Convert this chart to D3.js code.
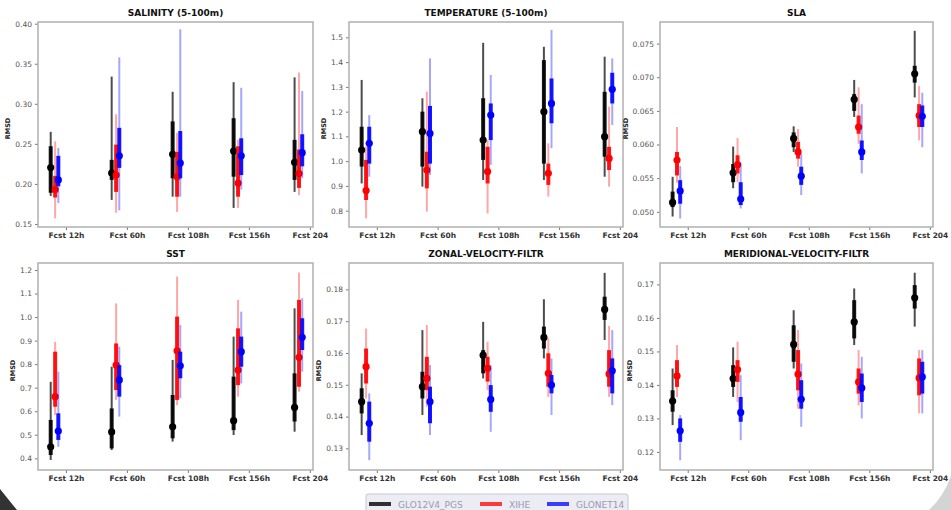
<!DOCTYPE html>
<html>
<head>
<meta charset="utf-8">
<script src="https://cdn.jsdelivr.net/npm/d3@7"></script>
<style>
  body { margin: 0; background: #fff; }
  svg { display: block; font-family: "DejaVu Sans", sans-serif; }
</style>
</head>
<body>
<div id="chart"></div>
<script>
'use strict';

// forecast lead times and labels
var hours = [12, 60, 108, 156, 204];
var xLabels = ['Fcst 12h', 'Fcst 60h', 'Fcst 108h', 'Fcst 156h', 'Fcst 204'];
var seriesNames = ['GLO12V4_PGS', 'XIHE', 'GLONET14'];

// each row: [low, q1, median, q3, high]
var salGlo = [[0.185, 0.189, 0.2205, 0.247, 0.265], [0.180, 0.205, 0.2135, 0.230, 0.334], [0.184, 0.207, 0.237, 0.278, 0.315], [0.170, 0.209, 0.241, 0.282, 0.327], [0.190, 0.205, 0.227, 0.255, 0.333]];
var salXihe = [[0.157, 0.183, 0.193, 0.210, 0.253], [0.164, 0.190, 0.211, 0.249, 0.287], [0.165, 0.184, 0.209, 0.240, 0.264], [0.170, 0.184, 0.201, 0.247, 0.255], [0.186, 0.195, 0.213, 0.243, 0.339]];
var salNet = [[0.176, 0.197, 0.205, 0.235, 0.245], [0.167, 0.220, 0.235, 0.270, 0.358], [0.184, 0.207, 0.226, 0.266, 0.393], [0.193, 0.211, 0.235, 0.257, 0.320], [0.207, 0.222, 0.239, 0.262, 0.316]];

var tempGlo = [[0.910, 0.978, 1.045, 1.139, 1.328], [0.897, 0.978, 1.119, 1.200, 1.254], [0.924, 1.005, 1.085, 1.254, 1.478], [0.924, 0.990, 1.200, 1.408, 1.462], [0.937, 1.018, 1.099, 1.280, 1.422]];
var tempXihe = [[0.769, 0.843, 0.881, 1.005, 1.060], [0.796, 0.890, 0.964, 1.038, 1.281], [0.789, 0.910, 0.958, 1.058, 1.085], [0.857, 0.904, 0.951, 0.990, 1.072], [0.897, 0.964, 1.011, 1.058, 1.220]];
var tempNet = [[0.937, 0.990, 1.072, 1.139, 1.186], [0.944, 0.990, 1.112, 1.223, 1.415], [0.985, 1.085, 1.186, 1.233, 1.348], [1.052, 1.153, 1.233, 1.334, 1.530], [1.146, 1.233, 1.290, 1.357, 1.415]];

var slaGlo = [[0.0493, 0.0507, 0.0514, 0.0530, 0.0552], [0.0535, 0.0544, 0.0558, 0.0571, 0.0597], [0.0589, 0.0596, 0.0609, 0.0618, 0.0627], [0.0641, 0.0650, 0.0667, 0.0675, 0.0696], [0.0670, 0.0692, 0.0705, 0.0717, 0.0769]];
var slaXihe = [[0.0543, 0.0554, 0.0577, 0.0589, 0.0626], [0.0544, 0.0557, 0.0570, 0.0584, 0.0610], [0.0567, 0.0579, 0.0589, 0.0604, 0.0623], [0.0601, 0.0616, 0.0626, 0.0643, 0.0685], [0.0606, 0.0626, 0.0643, 0.0660, 0.0687]];
var slaNet = [[0.0490, 0.0512, 0.0531, 0.0547, 0.0568], [0.0505, 0.0510, 0.0519, 0.0544, 0.0573], [0.0525, 0.0540, 0.0553, 0.0567, 0.0586], [0.0557, 0.0577, 0.0589, 0.0606, 0.0660], [0.0596, 0.0626, 0.0642, 0.0658, 0.0677]];

var sstGlo = [[0.393, 0.414, 0.449, 0.563, 0.725], [0.435, 0.442, 0.512, 0.612, 0.789], [0.471, 0.485, 0.534, 0.669, 0.818], [0.499, 0.520, 0.560, 0.747, 0.917], [0.513, 0.556, 0.616, 0.761, 1.037]];
var sstXihe = [[0.584, 0.619, 0.662, 0.853, 0.895], [0.648, 0.690, 0.796, 0.888, 1.058], [0.626, 0.648, 0.857, 1.002, 1.172], [0.662, 0.711, 0.775, 0.952, 1.073], [0.683, 0.704, 0.829, 1.073, 1.189]];
var sstNet = [[0.449, 0.478, 0.516, 0.591, 0.768], [0.577, 0.662, 0.733, 0.796, 0.874], [0.655, 0.740, 0.793, 0.853, 0.966], [0.718, 0.789, 0.853, 0.917, 1.023], [0.768, 0.860, 0.914, 0.995, 1.080]];

var zonGlo = [[0.1342, 0.1410, 0.1447, 0.1489, 0.1536], [0.1405, 0.1457, 0.1494, 0.1541, 0.1672], [0.1520, 0.1536, 0.1593, 0.1609, 0.1698], [0.1583, 0.1614, 0.1649, 0.1683, 0.1769], [0.1641, 0.1704, 0.1737, 0.1777, 0.1852]];
var zonXihe = [[0.1457, 0.1504, 0.1557, 0.1614, 0.1677], [0.1431, 0.1483, 0.1520, 0.1588, 0.1688], [0.1483, 0.1510, 0.1552, 0.1588, 0.1635], [0.1462, 0.1494, 0.1536, 0.1599, 0.1646], [0.1462, 0.1494, 0.1534, 0.1609, 0.1685]];
var zonNet = [[0.1263, 0.1321, 0.1379, 0.1447, 0.1473], [0.1342, 0.1379, 0.1447, 0.1494, 0.1562], [0.1352, 0.1415, 0.1454, 0.1499, 0.1562], [0.1405, 0.1473, 0.1499, 0.1531, 0.1583], [0.1436, 0.1473, 0.1544, 0.1583, 0.1672]];

var merGlo = [[0.1280, 0.1320, 0.1352, 0.1384, 0.1449], [0.1364, 0.1394, 0.1419, 0.1459, 0.1512], [0.1449, 0.1469, 0.1521, 0.1578, 0.1623], [0.1519, 0.1539, 0.1588, 0.1653, 0.1688], [0.1574, 0.1628, 0.1660, 0.1698, 0.1735]];
var merXihe = [[0.1364, 0.1394, 0.1427, 0.1474, 0.1519], [0.1349, 0.1409, 0.1446, 0.1474, 0.1529], [0.1329, 0.1384, 0.1432, 0.1504, 0.1564], [0.1339, 0.1374, 0.1409, 0.1449, 0.1504], [0.1315, 0.1369, 0.1421, 0.1479, 0.1504]];
var merNet = [[0.1175, 0.1230, 0.1263, 0.1300, 0.1310], [0.1235, 0.1290, 0.1318, 0.1364, 0.1429], [0.1275, 0.1329, 0.1357, 0.1414, 0.1464], [0.1300, 0.1349, 0.1391, 0.1434, 0.1484], [0.1315, 0.1374, 0.1424, 0.1469, 0.1504]];

var titles = ['SALINITY (5-100m)', 'TEMPERATURE (5-100m)', 'SLA', 'SST', 'ZONAL-VELOCITY-FILTR', 'MERIDIONAL-VELOCITY-FILTR'];
var salTicks = [0.15, 0.20, 0.25, 0.30, 0.35, 0.40];
var tempTicks = [0.8, 0.9, 1.0, 1.1, 1.2, 1.3, 1.4, 1.5];
var slaTicks = [0.050, 0.055, 0.060, 0.065, 0.070, 0.075];
var sstTicks = [0.4, 0.5, 0.6, 0.7, 0.8, 0.9, 1.0, 1.1, 1.2];
var zonTicks = [0.13, 0.14, 0.15, 0.16, 0.17, 0.18];
var merTicks = [0.12, 0.13, 0.14, 0.15, 0.16, 0.17];

var width = 951;
var height = 510;
var colors = ['#000000', '#ff0000', '#0000ff'];
var whiskerColors = ['rgba(0,0,0,0.7)', 'rgba(255,0,0,0.35)', 'rgba(0,0,255,0.35)'];
var shift = [-12, -8.5, -6];

var panels = [
  { series: [salGlo, salXihe, salNet], ticks: salTicks, fmt: '.2f', domain: [0.1462, 0.4021] },
  { series: [tempGlo, tempXihe, tempNet], ticks: tempTicks, fmt: '.1f', domain: [0.734, 1.562] },
  { series: [slaGlo, slaXihe, slaNet], ticks: slaTicks, fmt: '.3f', domain: [0.04774, 0.07821] },
  { series: [sstGlo, sstXihe, sstNet], ticks: sstTicks, fmt: '.1f', domain: [0.3503, 1.2297] },
  { series: [zonGlo, zonXihe, zonNet], ticks: zonTicks, fmt: '.2f', domain: [0.1232, 0.1883] },
  { series: [merGlo, merXihe, merNet], ticks: merTicks, fmt: '.2f', domain: [0.1146, 0.1764] }
];
var colX = [38, 349, 660];
var colW = [275, 274, 273];
var rowY = [22, 263];
var rowH = [205, 207];

var svg = d3.select('#chart').append('svg')
  .attr('width', width)
  .attr('height', height);

svg.append('rect').attr('width', width).attr('height', height).attr('fill', '#fff');

function renderPanel (p, i) {
  var col = i % 3;
  var row = Math.floor(i / 3);
  var w = colW[col];
  var h = rowH[row];
  var g = svg.append('g').attr('transform', 'translate(' + colX[col] + ',' + rowY[row] + ')');

  var x = d3.scaleLinear().domain([-10, 206.5]).range([0, w]);
  var y = d3.scaleLinear().domain(p.domain).range([h, 0]);

  var yAxis = g.append('g')
    .call(d3.axisLeft(y).tickValues(p.ticks).tickFormat(d3.format(p.fmt)).tickSize(3).tickPadding(3));
  yAxis.select('.domain').remove();
  yAxis.selectAll('line').attr('stroke', '#777');
  yAxis.selectAll('text').attr('font-size', 7.5).attr('fill', '#555').attr('font-family', 'DejaVu Sans');

  var xAxis = g.append('g').attr('transform', 'translate(0,' + h + ')')
    .call(d3.axisBottom(x).tickValues(hours).tickFormat(function (d, k) { return xLabels[k]; }).tickSize(3).tickPadding(3));
  xAxis.select('.domain').remove();
  xAxis.selectAll('line').attr('stroke', '#777');
  xAxis.selectAll('text').attr('font-size', 7.5).attr('font-weight', 'bold').attr('fill', '#333').attr('font-family', 'DejaVu Sans');

  g.append('rect')
    .attr('width', w).attr('height', h)
    .attr('fill', 'none').attr('stroke', '#b0b0b0').attr('stroke-width', 1.5);

  var maxW = 0;
  yAxis.selectAll('text').each(function () { maxW = Math.max(maxW, this.getComputedTextLength()); });

  g.append('text')
    .attr('transform', 'translate(' + (-maxW - 11) + ',' + (h / 2 + 4) + ') rotate(-90)')
    .attr('text-anchor', 'middle')
    .attr('font-size', 6.5).attr('font-weight', 'bold').attr('fill', '#222')
    .text('RMSD');

  g.append('text')
    .attr('x', w / 2).attr('y', -6)
    .attr('text-anchor', 'middle')
    .attr('font-size', 9).attr('font-weight', 'bold').attr('fill', '#111')
    .text(titles[i]);

  p.series.forEach(function (rows, s) {
    var sg = g.append('g');
    rows.forEach(function (r, k) {
      var cx = x(hours[k] + shift[s]);
      sg.append('line')
        .attr('x1', cx).attr('x2', cx)
        .attr('y1', y(r[0])).attr('y2', y(r[4]))
        .attr('stroke', whiskerColors[s]).attr('stroke-width', 2);
      sg.append('line')
        .attr('x1', cx).attr('x2', cx)
        .attr('y1', y(r[1])).attr('y2', y(r[3]))
        .attr('stroke', colors[s]).attr('stroke-width', 4).attr('opacity', 0.9);
      sg.append('circle')
        .attr('cx', cx).attr('cy', y(r[2])).attr('r', 3.6)
        .attr('fill', colors[s]);
    });
  });
}

panels.forEach(renderPanel);

// legend
var leg = svg.append('g').attr('transform', 'translate(366,494)');
leg.append('rect')
  .attr('width', 262).attr('height', 22).attr('rx', 2)
  .attr('fill', '#ececf4').attr('stroke', '#c8c8d0');
var legX = [3, 114, 181];
seriesNames.forEach(function (n, s) {
  leg.append('line')
    .attr('x1', legX[s]).attr('x2', legX[s] + 22)
    .attr('y1', 10).attr('y2', 10)
    .attr('stroke', colors[s]).attr('stroke-width', 4).attr('opacity', s === 0 ? 0.8 : 0.75);
  leg.append('text')
    .attr('x', legX[s] + 29).attr('y', 13.5)
    .attr('font-size', 9).attr('fill', '#9a9ab0')
    .text(n);
});

// rounded corners of the photographed screen
svg.append('path')
  .attr('d', 'M0,489 Q8,499 17,510 L0,510 Z')
  .attr('fill', '#333');
svg.append('path')
  .attr('d', 'M951,476 Q944,496 929,510 L951,510 Z')
  .attr('fill', '#d4d4d4');
</script>
</body>
</html>
